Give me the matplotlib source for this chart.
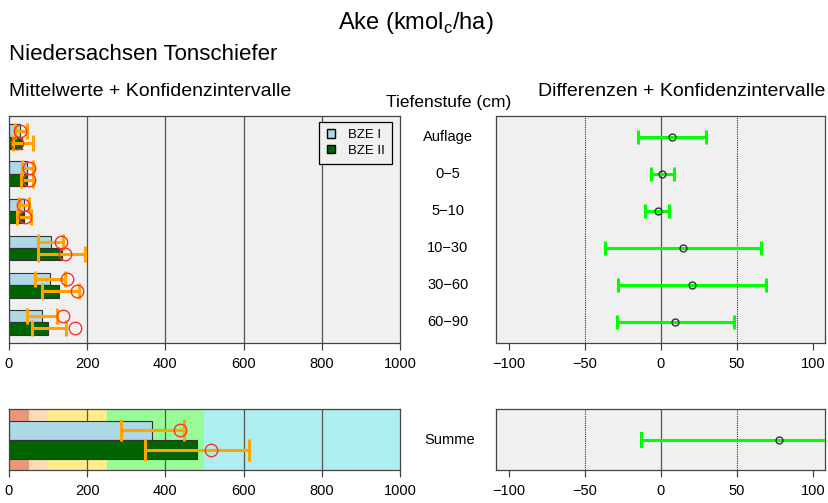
import numpy as np
import matplotlib
matplotlib.use("Agg")
import matplotlib.pyplot as plt
from matplotlib.transforms import blended_transform_factory
from matplotlib.patches import Patch

plt.rcParams['font.family'] = ['Liberation Sans', 'DejaVu Sans']

# depth levels (top to bottom)
stufen = ["Auflage", "0\u22125", "5\u221210", "10\u221230", "30\u221260", "60\u221290"]

# means per depth level (kmolc/ha)
bze1_mean = [28, 45, 38, 108, 105, 84]
bze2_mean = [34, 45, 38, 135, 128, 101]
# confidence intervals
bze1_lo = [15, 32, 26, 75, 67, 47]
bze1_hi = [45, 61, 50, 139, 144, 122]
bze2_lo = [9, 30, 21, 75, 84, 58]
bze2_hi = [62, 62, 56, 195, 178, 145]
# red circles
bze1_circ = [28, 50, 37, 132, 148, 139]
bze2_circ = [20, 51, 41, 144, 175, 170]

# differences BZE II - BZE I
diff = [7.0, 0.9, -2.2, 14.3, 20.6, 9.4]
diff_lo = [-14.9, -6.8, -10.3, -36.8, -28.1, -29.2]
diff_hi = [29.4, 8.8, 5.5, 65.6, 69.3, 48.0]

# sum over profile
summe_mean = [367, 481]
summe_lo = [287, 347]
summe_hi = [447, 614]
summe_circ = [438, 517]
summe_diff = 77.8
summe_diff_lo = -13.4
summe_diff_hi = 170

# rating classes in the background of the sum panel
klassen_grenzen = [0, 50, 100, 250, 500, 1000]
klassen_farben = ["#E9967A", "#FFDAB9", "#FFEC8B", "#98FB98", "#AFEEEE"]

c_bze1 = "lightblue"
c_bze2 = "darkgreen"
c_ci = "orange"
c_diff = "#00FF00"
bg = "#F0F0F0"
edge = "#444444"

W, H = 829, 503
fig = plt.figure(figsize=(W / 100, H / 100), dpi=100)


def px_axes(x0, y0, x1, y1):
    return fig.add_axes([x0 / W, 1 - y1 / H, (x1 - x0) / W, (y1 - y0) / H])


ax_tl = px_axes(9, 116, 400, 343)
ax_tr = px_axes(496, 116, 825, 343)
ax_bl = px_axes(9, 409, 400, 470)
ax_br = px_axes(496, 409, 825, 470)


def style(ax, xticks):
    ax.set_facecolor(bg)
    for s in ax.spines.values():
        s.set_color(edge)
        s.set_linewidth(0.9)
    ax.set_yticks([])
    ax.set_xticks(xticks)
    ax.tick_params(axis='x', length=5, width=0.9, color=edge, labelsize=10.5, pad=5)


# top left: means
y = np.arange(len(stufen))
style(ax_tl, [0, 200, 400, 600, 800, 1000])
ax_tl.set_xlim(0, 1000)
ax_tl.set_ylim(5.56, -0.56)
for gx in [200, 400, 600, 800]:
    ax_tl.axvline(gx, color="#555555", lw=0.9, zorder=1)
h = 0.335
ax_tl.barh(y - h / 2, bze1_mean, height=h, color=c_bze1, edgecolor="#333333", lw=0.8, zorder=2)
ax_tl.barh(y + h / 2, bze2_mean, height=h, color=c_bze2, edgecolor="#333333", lw=0.8, zorder=2)
m1 = (np.array(bze1_lo) + np.array(bze1_hi)) / 2
m2 = (np.array(bze2_lo) + np.array(bze2_hi)) / 2
ax_tl.errorbar(m1, y - h / 2, xerr=(np.array(bze1_hi) - np.array(bze1_lo)) / 2, fmt='none',
               ecolor=c_ci, elinewidth=2.2, capsize=5.5, capthick=2.2, zorder=3)
ax_tl.errorbar(m2, y + h / 2, xerr=(np.array(bze2_hi) - np.array(bze2_lo)) / 2, fmt='none',
               ecolor=c_ci, elinewidth=2.2, capsize=5.5, capthick=2.2, zorder=3)
ax_tl.plot(bze1_circ, y - h / 2, 'o', mfc='none', mec='#FF3030', ms=9, mew=1, zorder=4)
ax_tl.plot(bze2_circ, y + h / 2, 'o', mfc='none', mec='#FF3030', ms=9, mew=1, zorder=4)
leg = ax_tl.legend(handles=[Patch(facecolor=c_bze1, edgecolor='black', label="BZE I"),
                            Patch(facecolor=c_bze2, edgecolor='black', label="BZE II")],
                   loc='upper right', bbox_to_anchor=(0.9795, 0.9736), borderaxespad=0,
                   fontsize=9.5, fancybox=False, framealpha=1, facecolor=bg, edgecolor='black',
                   handlelength=0.6, handleheight=0.6, handletextpad=1.0, borderpad=0.55,
                   labelspacing=0.25)
leg.get_frame().set_linewidth(0.9)
leg.set_zorder(5)

# top right: differences
style(ax_tr, [-100, -50, 0, 50, 100])
ax_tr.set_xlim(-108.5, 108)
ax_tr.set_ylim(5.56, -0.56)
for gx in [-50, 50]:
    ax_tr.axvline(gx, color="#333333", lw=0.8, ls=(0, (1, 1)), zorder=1)
ax_tr.axvline(0, color="#555555", lw=0.9, zorder=1)
ax_tr.errorbar((np.array(diff_lo) + np.array(diff_hi)) / 2, y,
               xerr=(np.array(diff_hi) - np.array(diff_lo)) / 2, fmt='none',
               ecolor=c_diff, elinewidth=2.2, capsize=5, capthick=2.2, zorder=3)
ax_tr.plot(diff, y, 'o', mfc='none', mec='#333333', ms=5, mew=1, zorder=4)

# bottom left: sum
style(ax_bl, [0, 200, 400, 600, 800, 1000])
ax_bl.set_xlim(0, 1000)
ax_bl.set_ylim(2.05, -1.08)
for i in range(len(klassen_farben)):
    ax_bl.axvspan(klassen_grenzen[i], klassen_grenzen[i + 1], color=klassen_farben[i], lw=0, zorder=0)
for gx in [200, 400, 600, 800]:
    ax_bl.axvline(gx, color="#555555", lw=0.9, zorder=1)
ys = np.array([0, 1])
ax_bl.barh(ys, summe_mean, height=0.97, color=[c_bze1, c_bze2], edgecolor="#333333", lw=0.8, zorder=2)
ax_bl.errorbar((np.array(summe_lo) + np.array(summe_hi)) / 2, ys,
               xerr=(np.array(summe_hi) - np.array(summe_lo)) / 2, fmt='none',
               ecolor=c_ci, elinewidth=2.2, capsize=8, capthick=2.2, zorder=3)
ax_bl.plot(summe_circ, ys, 'o', mfc='none', mec='#FF3030', ms=9, mew=1, zorder=4)

# bottom right: sum difference (upper end runs past the axis)
style(ax_br, [-100, -50, 0, 50, 100])
ax_br.set_xlim(-108.5, 108)
ax_br.set_ylim(1, -1)
for gx in [-50, 50]:
    ax_br.axvline(gx, color="#333333", lw=0.8, ls=(0, (1, 1)), zorder=1)
ax_br.axvline(0, color="#555555", lw=0.9, zorder=1)
ax_br.plot([summe_diff_lo, summe_diff_hi], [0, 0], color=c_diff, lw=2.2, zorder=3)
ax_br.plot([summe_diff_lo, summe_diff_lo], [-0.22, 0.22], color=c_diff, lw=2.2, zorder=3)
ax_br.plot(summe_diff, 0, 'o', mfc='none', mec='#333333', ms=5, mew=1, zorder=4)

# depth labels between panels
tr = blended_transform_factory(fig.transFigure, ax_tr.transData)
for yi, s in zip(y, stufen):
    fig.text(448 / W, yi, s, transform=tr, ha='center', va='center', fontsize=10.5)
trb = blended_transform_factory(fig.transFigure, ax_br.transData)
fig.text(450 / W, 0, "Summe", transform=trb, ha='center', va='center', fontsize=10.5)

# titles
fig.text(416 / W, 1 - 29 / H, r"Ake (kmol$_{\mathregular{c}}$/ha)", ha='center', va='baseline', fontsize=17)
fig.text(9 / W, 1 - 60 / H, "Niedersachsen Tonschiefer", ha='left', va='baseline', fontsize=16)
fig.text(9 / W, 1 - 96 / H, "Mittelwerte + Konfidenzintervalle", ha='left', va='baseline', fontsize=14)
fig.text(538 / W, 1 - 96.5 / H, "Differenzen + Konfidenzintervalle", ha='left', va='baseline', fontsize=14)
fig.text(449 / W, 1 - 106.5 / H, "Tiefenstufe (cm)", ha='center', va='baseline', fontsize=12.5)

fig.savefig("out.png", dpi=100)
